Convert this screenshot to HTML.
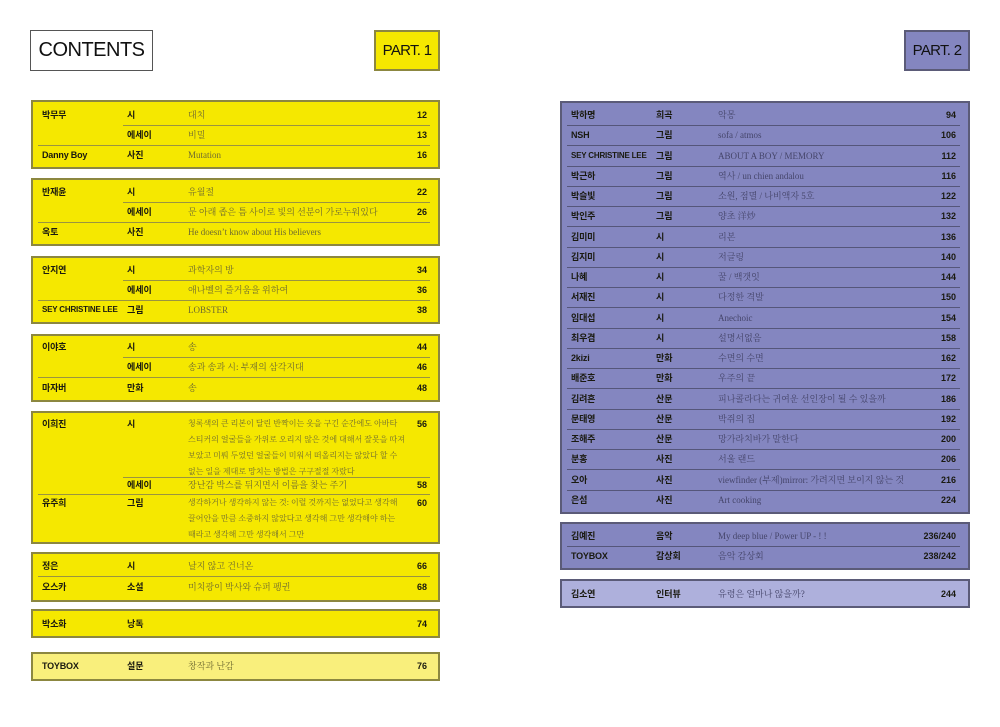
<!DOCTYPE html>
<html><head><meta charset="utf-8"><style>
*{margin:0;padding:0;box-sizing:border-box}
body{width:1000px;height:727px;background:#fff;position:relative;overflow:hidden;font-family:"Liberation Sans","Noto Sans CJK KR",sans-serif}
.b{position:absolute;border:2px solid #8c8740;background:#f5e800}
.pb{position:absolute;border:2px solid #5b5b78;background:#8486c0}
.r{position:absolute;height:12px;line-height:12px;font-size:9px;white-space:nowrap}
.r span{position:absolute;top:0;line-height:12px}
.n{font-weight:bold;color:#1a1a10;letter-spacing:-0.2px}
.g{font-weight:bold;color:#1a1a10}
.t{font-family:"Liberation Serif","Noto Serif CJK SC",serif;color:#6e6a30;font-size:9px}
.pr .t{color:#45456a}
.p{font-weight:bold;color:#1a1a10;text-align:right;width:60px}
.l{position:absolute;height:1px;background:#9a9440}
.pl{position:absolute;height:1px;background:#55567a}
.hd{position:absolute;display:flex;align-items:center;justify-content:center;color:#111}
.ml{position:absolute;font-family:"Liberation Serif","Noto Serif CJK KR",serif;font-size:8px;line-height:16px;color:#6e6a30;white-space:nowrap;left:188px}
</style></head><body>
<div class="hd" style="left:30px;top:30px;width:123px;height:41px;border:1px solid #555;font-size:20px;letter-spacing:-0.5px">CONTENTS</div>
<div class="hd" style="left:374px;top:30px;width:66px;height:41px;border:2px solid #8c8740;background:#f5e800;font-size:15px;letter-spacing:-0.7px">PART. 1</div>
<div class="hd" style="left:904px;top:30px;width:66px;height:41px;border:2px solid #5b5b78;background:#8486c0;font-size:15px;letter-spacing:-0.7px">PART. 2</div>

<div class="b" style="left:31px;top:100px;width:409px;height:69px"></div>
<div class="b" style="left:31px;top:178px;width:409px;height:68px"></div>
<div class="b" style="left:31px;top:256px;width:409px;height:68px"></div>
<div class="b" style="left:31px;top:334px;width:409px;height:68px"></div>
<div class="b" style="left:31px;top:411px;width:409px;height:133px"></div>
<div class="b" style="left:31px;top:552px;width:409px;height:50px"></div>
<div class="b" style="left:31px;top:609px;width:409px;height:29px"></div>
<div class="b" style="left:31px;top:652px;width:409px;height:29px;background:#f9ef7c"></div>

<div class="l" style="top:125px;left:123px;width:307px"></div>
<div class="l" style="top:145px;left:38px;width:392px"></div>
<div class="l" style="top:202px;left:123px;width:307px"></div>
<div class="l" style="top:222px;left:38px;width:392px"></div>
<div class="l" style="top:280px;left:123px;width:307px"></div>
<div class="l" style="top:300px;left:38px;width:392px"></div>
<div class="l" style="top:357px;left:123px;width:307px"></div>
<div class="l" style="top:377px;left:38px;width:392px"></div>
<div class="l" style="top:477px;left:123px;width:307px"></div>
<div class="l" style="top:494px;left:38px;width:392px"></div>
<div class="l" style="top:576px;left:38px;width:392px"></div>

<div class="r" style="top:109px;left:0;width:1000px"><span class="n" style="left:42px">박무무</span><span class="g" style="left:127px">시</span><span class="t" style="left:188px">대치</span><span class="p" style="left:367px">12</span></div>
<div class="r" style="top:129px;left:0;width:1000px"><span class="g" style="left:127px">에세이</span><span class="t" style="left:188px">비밀</span><span class="p" style="left:367px">13</span></div>
<div class="r" style="top:149px;left:0;width:1000px"><span class="n" style="left:42px">Danny Boy</span><span class="g" style="left:127px">사진</span><span class="t" style="left:188px">Mutation</span><span class="p" style="left:367px">16</span></div>

<div class="r" style="top:186px;left:0;width:1000px"><span class="n" style="left:42px">반재윤</span><span class="g" style="left:127px">시</span><span class="t" style="left:188px">유월절</span><span class="p" style="left:367px">22</span></div>
<div class="r" style="top:206px;left:0;width:1000px"><span class="g" style="left:127px">에세이</span><span class="t" style="left:188px">문 아래 좁은 틈 사이로 빛의 선분이 가로누워있다</span><span class="p" style="left:367px">26</span></div>
<div class="r" style="top:226px;left:0;width:1000px"><span class="n" style="left:42px">옥토</span><span class="g" style="left:127px">사진</span><span class="t" style="left:188px">He doesn’t know about His believers</span></div>

<div class="r" style="top:264px;left:0;width:1000px"><span class="n" style="left:42px">안지연</span><span class="g" style="left:127px">시</span><span class="t" style="left:188px">과학자의 방</span><span class="p" style="left:367px">34</span></div>
<div class="r" style="top:284px;left:0;width:1000px"><span class="g" style="left:127px">에세이</span><span class="t" style="left:188px">애나벨의 즐거움을 위하여</span><span class="p" style="left:367px">36</span></div>
<div class="r" style="top:304px;left:0;width:1000px"><span class="n" style="left:42px;font-size:8px">SEY CHRISTINE LEE</span><span class="g" style="left:127px">그림</span><span class="t" style="left:188px">LOBSTER</span><span class="p" style="left:367px">38</span></div>

<div class="r" style="top:341px;left:0;width:1000px"><span class="n" style="left:42px">이야호</span><span class="g" style="left:127px">시</span><span class="t" style="left:188px">송</span><span class="p" style="left:367px">44</span></div>
<div class="r" style="top:361px;left:0;width:1000px"><span class="g" style="left:127px">에세이</span><span class="t" style="left:188px">송과 송과 시: 부재의 삼각지대</span><span class="p" style="left:367px">46</span></div>
<div class="r" style="top:382px;left:0;width:1000px"><span class="n" style="left:42px">마자버</span><span class="g" style="left:127px">만화</span><span class="t" style="left:188px">송</span><span class="p" style="left:367px">48</span></div>

<div class="r" style="top:418px;left:0;width:1000px"><span class="n" style="left:42px">이희진</span><span class="g" style="left:127px">시</span><span class="p" style="left:367px">56</span></div>
<div class="ml" style="top:416px">청록색의 큰 리본이 달린 반짝이는 옷을 구긴 순간에도 아바타<br>스티커의 얼굴들을 가위로 오리지 않은 것에 대해서 잘못을 따져<br>보았고 미뤄 두었던 얼굴들이 미워서 떠올리지는 않았다 할 수<br>없는 일을 제대로 망치는 방법은 구구절절 자랐다</div>
<div class="r" style="top:479px;left:0;width:1000px"><span class="g" style="left:127px">에세이</span><span class="t" style="left:188px">장난감 박스를 뒤지면서 이름을 찾는 주기</span><span class="p" style="left:367px">58</span></div>
<div class="r" style="top:497px;left:0;width:1000px"><span class="n" style="left:42px">유주희</span><span class="g" style="left:127px">그림</span><span class="p" style="left:367px">60</span></div>
<div class="ml" style="top:495px">생각하거나 생각하지 않는 것: 이럴 것까지는 없었다고 생각해<br>끌어안을 만큼 소중하지 않았다고 생각해 그만 생각해야 하는<br>때라고 생각해 그만 생각해서 그만</div>

<div class="r" style="top:560px;left:0;width:1000px"><span class="n" style="left:42px">정은</span><span class="g" style="left:127px">시</span><span class="t" style="left:188px">날지 않고 건너온</span><span class="p" style="left:367px">66</span></div>
<div class="r" style="top:581px;left:0;width:1000px"><span class="n" style="left:42px">오스카</span><span class="g" style="left:127px">소설</span><span class="t" style="left:188px">미치광이 박사와 슈퍼 펭귄</span><span class="p" style="left:367px">68</span></div>
<div class="r" style="top:618px;left:0;width:1000px"><span class="n" style="left:42px">박소화</span><span class="g" style="left:127px">낭독</span><span class="p" style="left:367px">74</span></div>
<div class="r" style="top:660px;left:0;width:1000px"><span class="n" style="left:42px">TOYBOX</span><span class="g" style="left:127px">설문</span><span class="t" style="left:188px">창작과 난감</span><span class="p" style="left:367px">76</span></div>

<div class="pb" style="left:560px;top:101px;width:410px;height:413px"></div>
<div class="pb" style="left:560px;top:522px;width:410px;height:48px"></div>
<div class="pb" style="left:560px;top:579px;width:410px;height:29px;background:#aeb0dc"></div>

<div class="pl" style="top:125px;left:567px;width:393px"></div>
<div class="pl" style="top:145px;left:567px;width:393px"></div>
<div class="pl" style="top:166px;left:567px;width:393px"></div>
<div class="pl" style="top:186px;left:567px;width:393px"></div>
<div class="pl" style="top:206px;left:567px;width:393px"></div>
<div class="pl" style="top:226px;left:567px;width:393px"></div>
<div class="pl" style="top:247px;left:567px;width:393px"></div>
<div class="pl" style="top:267px;left:567px;width:393px"></div>
<div class="pl" style="top:287px;left:567px;width:393px"></div>
<div class="pl" style="top:307px;left:567px;width:393px"></div>
<div class="pl" style="top:328px;left:567px;width:393px"></div>
<div class="pl" style="top:348px;left:567px;width:393px"></div>
<div class="pl" style="top:368px;left:567px;width:393px"></div>
<div class="pl" style="top:388px;left:567px;width:393px"></div>
<div class="pl" style="top:409px;left:567px;width:393px"></div>
<div class="pl" style="top:429px;left:567px;width:393px"></div>
<div class="pl" style="top:449px;left:567px;width:393px"></div>
<div class="pl" style="top:469px;left:567px;width:393px"></div>
<div class="pl" style="top:490px;left:567px;width:393px"></div>
<div class="pl" style="top:546px;left:567px;width:393px"></div>

<div class="pr">
<div class="r" style="top:109px;left:0;width:1000px"><span class="n" style="left:571px">박하명</span><span class="g" style="left:656px">희곡</span><span class="t" style="left:718px">악몽</span><span class="p" style="left:896px">94</span></div>
<div class="r" style="top:129px;left:0;width:1000px"><span class="n" style="left:571px">NSH</span><span class="g" style="left:656px">그림</span><span class="t" style="left:718px">sofa / atmos</span><span class="p" style="left:896px">106</span></div>
<div class="r" style="top:150px;left:0;width:1000px"><span class="n" style="left:571px;font-size:8px">SEY CHRISTINE LEE</span><span class="g" style="left:656px">그림</span><span class="t" style="left:718px">ABOUT A BOY / MEMORY</span><span class="p" style="left:896px">112</span></div>
<div class="r" style="top:170px;left:0;width:1000px"><span class="n" style="left:571px">박근하</span><span class="g" style="left:656px">그림</span><span class="t" style="left:718px">역사 / un chien andalou</span><span class="p" style="left:896px">116</span></div>
<div class="r" style="top:190px;left:0;width:1000px"><span class="n" style="left:571px">박슬빛</span><span class="g" style="left:656px">그림</span><span class="t" style="left:718px">소원, 점멸 / 나비액자 5호</span><span class="p" style="left:896px">122</span></div>
<div class="r" style="top:210px;left:0;width:1000px"><span class="n" style="left:571px">박인주</span><span class="g" style="left:656px">그림</span><span class="t" style="left:718px">양초 洋炒</span><span class="p" style="left:896px">132</span></div>
<div class="r" style="top:231px;left:0;width:1000px"><span class="n" style="left:571px">김미미</span><span class="g" style="left:656px">시</span><span class="t" style="left:718px">리본</span><span class="p" style="left:896px">136</span></div>
<div class="r" style="top:251px;left:0;width:1000px"><span class="n" style="left:571px">김지미</span><span class="g" style="left:656px">시</span><span class="t" style="left:718px">저글링</span><span class="p" style="left:896px">140</span></div>
<div class="r" style="top:271px;left:0;width:1000px"><span class="n" style="left:571px">나혜</span><span class="g" style="left:656px">시</span><span class="t" style="left:718px">꿀 / 백갯잇</span><span class="p" style="left:896px">144</span></div>
<div class="r" style="top:291px;left:0;width:1000px"><span class="n" style="left:571px">서재진</span><span class="g" style="left:656px">시</span><span class="t" style="left:718px">다정한 격발</span><span class="p" style="left:896px">150</span></div>
<div class="r" style="top:312px;left:0;width:1000px"><span class="n" style="left:571px">임대섭</span><span class="g" style="left:656px">시</span><span class="t" style="left:718px">Anechoic</span><span class="p" style="left:896px">154</span></div>
<div class="r" style="top:332px;left:0;width:1000px"><span class="n" style="left:571px">최우겸</span><span class="g" style="left:656px">시</span><span class="t" style="left:718px">설명서없음</span><span class="p" style="left:896px">158</span></div>
<div class="r" style="top:352px;left:0;width:1000px"><span class="n" style="left:571px">2kizi</span><span class="g" style="left:656px">만화</span><span class="t" style="left:718px">수면의 수면</span><span class="p" style="left:896px">162</span></div>
<div class="r" style="top:372px;left:0;width:1000px"><span class="n" style="left:571px">배준호</span><span class="g" style="left:656px">만화</span><span class="t" style="left:718px">우주의 끝</span><span class="p" style="left:896px">172</span></div>
<div class="r" style="top:393px;left:0;width:1000px"><span class="n" style="left:571px">김려흔</span><span class="g" style="left:656px">산문</span><span class="t" style="left:718px">피나콜라다는 귀여운 선인장이 될 수 있을까</span><span class="p" style="left:896px">186</span></div>
<div class="r" style="top:413px;left:0;width:1000px"><span class="n" style="left:571px">문태영</span><span class="g" style="left:656px">산문</span><span class="t" style="left:718px">박쥐의 집</span><span class="p" style="left:896px">192</span></div>
<div class="r" style="top:433px;left:0;width:1000px"><span class="n" style="left:571px">조해주</span><span class="g" style="left:656px">산문</span><span class="t" style="left:718px">망가라치바가 말한다</span><span class="p" style="left:896px">200</span></div>
<div class="r" style="top:453px;left:0;width:1000px"><span class="n" style="left:571px">분홍</span><span class="g" style="left:656px">사진</span><span class="t" style="left:718px">서울 랜드</span><span class="p" style="left:896px">206</span></div>
<div class="r" style="top:474px;left:0;width:1000px"><span class="n" style="left:571px">오아</span><span class="g" style="left:656px">사진</span><span class="t" style="left:718px">viewfinder (부제)mirror: 가려지면 보이지 않는 것</span><span class="p" style="left:896px">216</span></div>
<div class="r" style="top:494px;left:0;width:1000px"><span class="n" style="left:571px">은섬</span><span class="g" style="left:656px">사진</span><span class="t" style="left:718px">Art cooking</span><span class="p" style="left:896px">224</span></div>

<div class="r" style="top:530px;left:0;width:1000px"><span class="n" style="left:571px">김예진</span><span class="g" style="left:656px">음악</span><span class="t" style="left:718px">My deep blue / Power UP - ! !</span><span class="p" style="left:896px">236/240</span></div>
<div class="r" style="top:550px;left:0;width:1000px"><span class="n" style="left:571px">TOYBOX</span><span class="g" style="left:656px">감상회</span><span class="t" style="left:718px">음악 감상회</span><span class="p" style="left:896px">238/242</span></div>
<div class="r" style="top:588px;left:0;width:1000px"><span class="n" style="left:571px">김소연</span><span class="g" style="left:656px">인터뷰</span><span class="t" style="left:718px">유령은 얼마나 않을까?</span><span class="p" style="left:896px">244</span></div>
</div>
</body></html>
